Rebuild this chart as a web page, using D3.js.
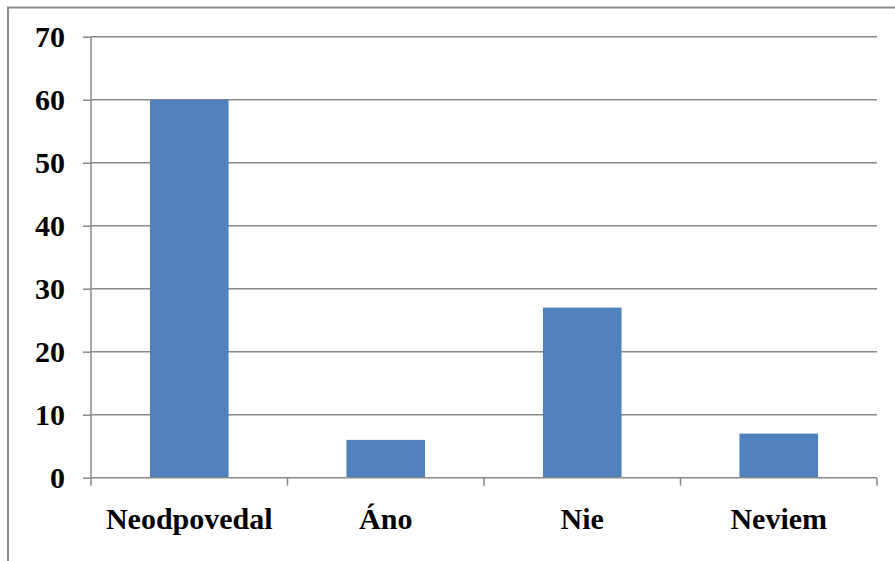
<!DOCTYPE html>
<html><head><meta charset="utf-8">
<script src="https://cdn.jsdelivr.net/npm/d3@7"></script>
<style>body{margin:0;background:#fff}svg{display:block}</style>
</head><body>
<svg id="c" width="895" height="561"></svg>
<script>
const categories = ["Neodpovedal", "Áno", "Nie", "Neviem"];
const values = [60, 6, 27, 7];
const yTicks = [0, 10, 20, 30, 40, 50, 60, 70];

const svg = d3.select("#c");
const pLeft = 91, pRight = 877, pTop = 36.7, pBottom = 477.7;
const font = "Liberation Serif, Times New Roman, serif";

// outer border
svg.append("path").attr("d", "M8,561 V7.5 H895").attr("fill", "none").attr("stroke", "#8c8c8c").attr("stroke-width", 2);

const x = d3.scaleBand().domain(categories).range([pLeft, pRight]).paddingInner(0.6).paddingOuter(0.3);
const xb = d3.scaleBand().domain(categories).range([pLeft, pRight]).padding(0);
const y = d3.scaleLinear().domain([0, 70]).range([pBottom, pTop]);

// gridlines
svg.append("g").selectAll("line").data(yTicks.filter(d => d > 0)).join("line")
  .attr("x1", pLeft).attr("x2", pRight).attr("y1", d => y(d)).attr("y2", d => y(d))
  .attr("stroke", "#8a8a8a").attr("stroke-width", 1.5);

// bars
svg.append("g").selectAll("rect").data(values).join("rect")
  .attr("x", (d, i) => x(categories[i])).attr("width", x.bandwidth())
  .attr("y", d => y(d)).attr("height", d => pBottom - y(d))
  .attr("fill", "#4F81BD");

// y axis
const yAxis = svg.append("g").attr("transform", `translate(${pLeft},0)`)
  .call(d3.axisLeft(y).tickValues(yTicks).tickSize(8).tickPadding(18));
yAxis.attr("font-family", null).attr("font-size", null);
yAxis.select(".domain").attr("stroke", "#8a8a8a").attr("stroke-width", 1.5).attr("d", `M0,${pBottom}V${pTop}`);
yAxis.selectAll(".tick line").attr("stroke", "#8a8a8a").attr("stroke-width", 1.5);
yAxis.selectAll(".tick text").style("font-family", font).style("font-weight", "bold").style("font-size", "30px").attr("fill", "#000");

// x axis
const xAxis = svg.append("g").attr("transform", `translate(0,${pBottom})`);
xAxis.append("line").attr("x1", pLeft).attr("x2", pRight).attr("stroke", "#8a8a8a").attr("stroke-width", 1.5);
const bounds = categories.map(c => xb(c)).concat([pRight]);
xAxis.selectAll("line.t").data(bounds).join("line").attr("class", "t")
  .attr("x1", d => d).attr("x2", d => d).attr("y1", 0).attr("y2", 8)
  .attr("stroke", "#8a8a8a").attr("stroke-width", 1.5);
xAxis.selectAll("text").data(categories).join("text")
  .attr("x", d => xb(d) + xb.bandwidth() / 2).attr("y", 51.5)
  .attr("text-anchor", "middle")
  .style("font-family", font).style("font-weight", "bold").style("font-size", "30px")
  .attr("fill", "#000").text(d => d);
</script>
</body></html>
